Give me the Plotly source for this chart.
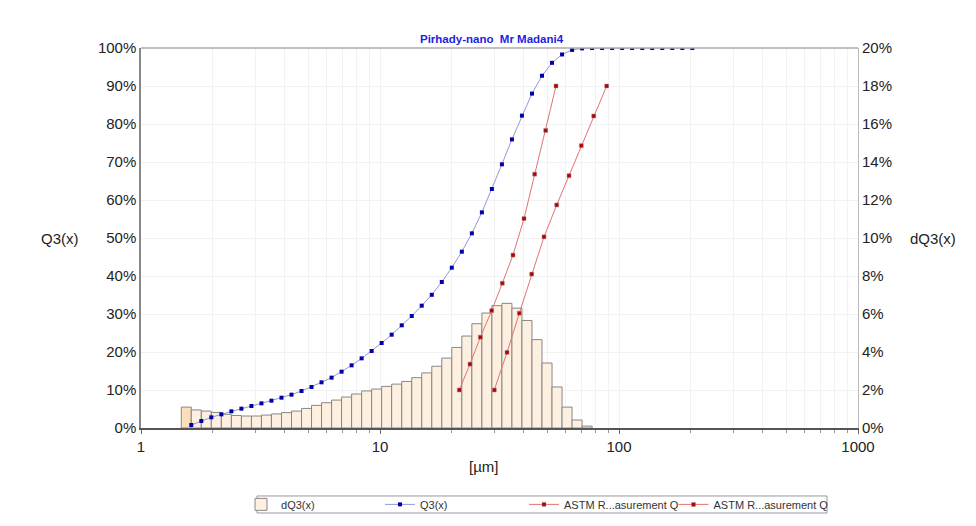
import plotly.graph_objects as go

# ---- data ----
# class boundaries (µm), channels k=4..55
edges = [1.474, 1.623, 1.788, 1.969, 2.169, 2.389, 2.631, 2.898, 3.191, 3.514,
         3.871, 4.263, 4.695, 5.171, 5.694, 6.272, 6.907, 7.607, 8.378, 9.227,
         10.16, 11.19, 12.33, 13.58, 14.95, 16.47, 18.14, 19.97, 22.00, 24.23,
         26.69, 29.39, 32.37, 35.65, 39.26, 43.24, 47.62, 52.45, 57.77, 63.62,
         70.07, 77.17, 84.99, 93.60, 103.1, 113.5, 125.1, 137.7, 151.7, 167.1,
         184.0, 202.7]

# dQ3(x) per class (%), classes k=4..44
dq3 = [1.10, 0.95, 0.89, 0.82, 0.72, 0.66, 0.63, 0.63, 0.68, 0.74,
       0.81, 0.89, 1.03, 1.19, 1.33, 1.47, 1.63, 1.79, 1.95, 2.05,
       2.19, 2.31, 2.45, 2.65, 2.90, 3.25, 3.68, 4.24, 4.84, 5.49,
       6.05, 6.44, 6.56, 6.31, 5.66, 4.65, 3.42, 2.16, 1.10, 0.42, 0.10]

# Q3(x) cumulative (%), at boundaries k=5..55
q3 = [0.79, 1.84, 2.81, 3.60, 4.39, 5.09, 5.79, 6.49, 7.19, 7.98,
      8.77, 9.74, 10.79, 12.02, 13.25, 14.82, 16.49, 18.33, 20.26, 22.37,
      24.56, 27.02, 29.47, 32.19, 35.05, 38.42, 42.19, 46.40, 51.23, 56.75,
      62.89, 69.39, 75.95, 82.20, 88.00, 92.70, 96.10, 98.30, 99.50, 99.90,
      100, 100, 100, 100, 100, 100, 100, 100, 100, 100, 100]

astm1_x = [21.47, 23.8, 26.29, 29.34, 32.49, 36.01, 40.05, 44.39, 49.36, 54.5]
astm1_y = [10.0, 16.8, 23.9, 30.9, 38.1, 45.5, 55.1, 66.8, 78.3, 90.0]
astm2_x = [30.08, 34.0, 38.27, 43.13, 48.56, 54.88, 61.77, 69.56, 78.4, 88.8]
astm2_y = [10.0, 19.9, 30.2, 40.5, 50.3, 58.7, 66.4, 74.3, 82.1, 90.0]

title_text = "Pirhady-nano  Mr Madani4"
x_ticks = [1, 10, 100, 1000]
left_ticks = list(range(0, 101, 10))
right_ticks = list(range(0, 21, 2))

FONT = "Liberation Sans, Arial, sans-serif"

# bar geometry from class boundaries
lefts = edges[:len(dq3)]
rights = edges[1:len(dq3) + 1]
centers = [(a + b) / 2 for a, b in zip(lefts, rights)]
widths = [b - a for a, b in zip(lefts, rights)]
q3_x = edges[1:1 + len(q3)]

fig = go.Figure()

# bars on the base (right-hand, 0-20 %) axis so the curves draw above them
bar_line = dict(color="rgb(135,135,135)", width=1)
fig.add_trace(go.Bar(
    x=centers[:1], y=dq3[:1], width=widths[:1], yaxis="y",
    marker=dict(color="rgb(253,222,188)", line=bar_line),
    showlegend=False, hoverinfo="skip"))
fig.add_trace(go.Bar(
    x=centers[1:], y=dq3[1:], width=widths[1:], yaxis="y", name="dQ3(x)",
    marker=dict(color="rgb(254,240,225)", line=bar_line), legend="legend"))

fig.add_trace(go.Scatter(
    x=q3_x, y=q3, mode="lines+markers", name="Q3(x)", legend="legend2", yaxis="y2",
    line=dict(color="rgb(150,150,215)", width=1),
    marker=dict(symbol="square", size=4, color="rgb(0,0,170)")))

red_marker = dict(symbol="square", size=4, color="rgb(185,0,0)",
                  line=dict(color="rgb(150,150,150)", width=0.5))
fig.add_trace(go.Scatter(
    x=astm1_x, y=astm1_y, mode="lines+markers", name="ASTM R...asurement Q",
    legend="legend3", yaxis="y2",
    line=dict(color="rgb(225,115,115)", width=1), marker=red_marker))
fig.add_trace(go.Scatter(
    x=astm2_x, y=astm2_y, mode="lines+markers", name="ASTM R...asurement Q",
    legend="legend4", yaxis="y2",
    line=dict(color="rgb(225,115,115)", width=1), marker=red_marker))

grid = "rgb(242,242,242)"
axis_font = dict(family=FONT, size=15, color="#222")

leg_common = dict(orientation="h", yanchor="middle", y=-0.201, xanchor="left",
                  bgcolor="rgba(0,0,0,0)", borderwidth=0, itemwidth=30,
                  font=dict(family=FONT, size=11, color="#333"))

# page body has an 8px margin: offsets below compensate for it
fig.update_layout(
    width=976, height=526,
    margin=dict(l=133, r=126, t=40, b=106),
    paper_bgcolor="white", plot_bgcolor="white",
    barmode="overlay",
    font=dict(family=FONT),
    xaxis=dict(type="log", range=[0, 3], tickvals=x_ticks,
               ticktext=[str(v) for v in x_ticks],
               showgrid=True, gridcolor=grid, gridwidth=1,
               ticks="outside", ticklen=4, tickcolor="#666",
               minor=dict(dtick="D1", ticks="outside", ticklen=3, tickcolor="#999",
                          showgrid=True, gridcolor=grid, gridwidth=1),
               showline=True, linecolor="#555", linewidth=1.5, mirror=False,
               tickfont=axis_font, zeroline=False),
    yaxis=dict(range=[0, 20], tickvals=right_ticks,
               ticktext=[f"{v}%" for v in right_ticks], side="right",
               showgrid=True, gridcolor=grid, gridwidth=1,
               showline=True, linecolor="#bbb", linewidth=1,
               ticks="", tickfont=axis_font, zeroline=False),
    yaxis2=dict(range=[0, 100], tickvals=left_ticks,
                ticktext=[f"{v}%" for v in left_ticks],
                overlaying="y", side="left", showgrid=False,
                showline=True, linecolor="#888", linewidth=1.5,
                ticks="", tickfont=axis_font, zeroline=False),
    legend=dict(x=0.1395, **leg_common),
    legend2=dict(x=0.3333, **leg_common),
    legend3=dict(x=0.5342, **leg_common),
    legend4=dict(x=0.7427, **leg_common),
    showlegend=True,
)

# top frame line
fig.add_shape(type="line", xref="paper", yref="paper", x0=0, x1=1, y0=1, y1=1,
              line=dict(color="#aaa", width=1.5))
# legend box
fig.add_shape(type="rect", xref="paper", yref="paper",
              x0=0.1618, x1=0.9568, y0=-0.2237, y1=-0.1789,
              line=dict(color="#999", width=1), fillcolor="rgba(0,0,0,0)")

fig.add_annotation(text=title_text, xref="paper", yref="paper", x=0.489, y=1.0,
                   xanchor="center", yanchor="bottom", yshift=1, showarrow=False,
                   font=dict(family=FONT, size=11.5, color="rgb(30,30,230)", weight="bold"))
fig.add_annotation(text="Q3(x)", xref="paper", yref="paper", x=-0.113, y=0.5,
                   xanchor="center", yanchor="middle",
                   showarrow=False, font=dict(family=FONT, size=15, color="#222"))
fig.add_annotation(text="dQ3(x)", xref="paper", yref="paper", x=1.104, y=0.5,
                   xanchor="center", yanchor="middle",
                   showarrow=False, font=dict(family=FONT, size=15, color="#222"))
fig.add_annotation(text="[µm]", xref="paper", yref="paper", x=0.477, y=-0.10,
                   xanchor="center", yanchor="middle",
                   showarrow=False, font=dict(family=FONT, size=15, color="#222"))

fig.write_html("out.html")
